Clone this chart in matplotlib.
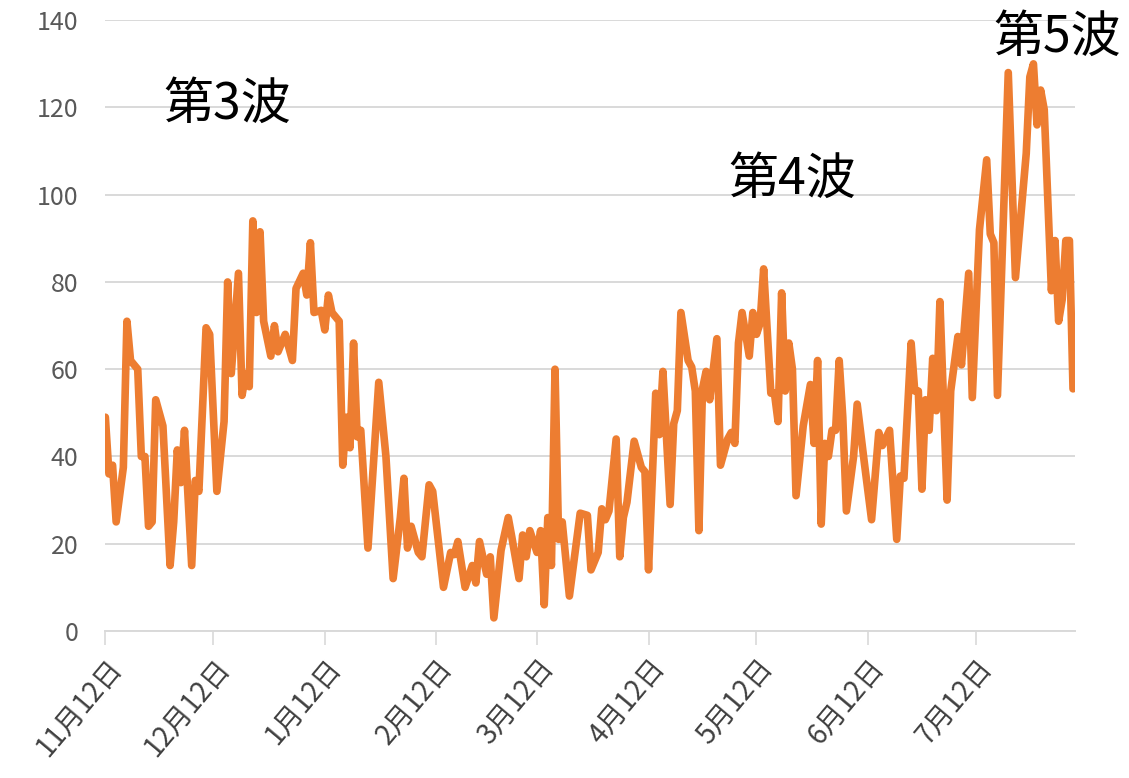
import matplotlib
matplotlib.use('Agg')
import matplotlib.pyplot as plt
import pandas as pd

plt.rcParams['font.family'] = ['Noto Sans CJK JP', 'DejaVu Sans']

start_date = '2020-11-12'
day_offsets = [0, 1, 2, 3, 5, 6, 7, 9, 10, 11, 12, 13, 14, 16, 18, 19, 20, 21, 22, 24,
               25, 26, 28, 29, 31, 33, 34, 35, 37, 38, 39, 40, 41, 42, 43, 44, 46, 47, 48, 50,
               52, 53, 55, 56, 57, 58, 60, 61, 62, 63, 65, 66, 67, 68, 69, 70, 71, 73, 76, 78,
               80, 82, 83, 84, 85, 87, 88, 90, 91, 94, 96, 97, 98, 100, 102, 103, 104, 106, 107, 108,
               110, 112, 113, 115, 116, 117, 118, 120, 121, 122, 123, 124, 125, 126, 127, 129, 132, 134, 135, 137,
               138, 139, 140, 142, 143, 144, 145, 147, 149, 150, 151, 153, 154, 155, 157, 158, 159, 160, 162, 163,
               164, 165, 166, 167, 168, 170, 171, 173, 174, 175, 176, 177, 179, 180, 181, 182, 183, 185, 186, 187,
               188, 189, 190, 191, 192, 194, 196, 197, 198, 199, 200, 201, 202, 203, 204, 205, 206, 208, 209, 211,
               213, 215, 216, 218, 220, 221, 222, 224, 225, 226, 227, 228, 229, 230, 231, 232, 234, 235, 237, 238,
               240, 241, 243, 245, 246, 247, 248, 251, 253, 256, 257, 258, 259, 260, 261, 263, 264, 265, 266, 267,
               268, 269]
values = [49, 36, 38, 25, 37.5, 71, 62, 60, 40, 40, 24, 25, 53, 47, 15, 25, 41.5, 34, 46, 15,
          34.5, 32, 69.5, 68, 32, 48, 80, 59, 82, 54, 59, 56, 94, 73, 91.5, 71, 63, 70, 64, 68,
          62, 78.5, 82, 77, 89, 73, 73.5, 69, 77, 73, 71, 38, 49, 42, 66, 44.5, 46, 19, 57, 40,
          12, 26, 35, 19, 24, 18, 17, 33.5, 32, 10, 18, 17.5, 20.5, 10, 15, 11, 20.5, 13, 17, 3,
          18.5, 26, 21.5, 12, 22, 17, 23, 18, 23, 6, 26, 15, 60, 21, 25, 8, 27, 26.5, 14, 18,
          28, 25.5, 27.5, 44, 17, 26, 29.5, 43.5, 37.5, 36.5, 14, 54.5, 45, 59.5, 29, 47.5, 50.5, 73, 62, 60.5,
          55, 23, 55.5, 59.5, 53, 67, 38, 44, 45.5, 43, 66, 73, 63, 73, 68, 70.5, 83, 54.5, 54.5, 48,
          77.5, 55, 66, 60, 31, 47, 56.5, 43, 62, 24.5, 43, 40, 46, 46, 62, 49, 27.5, 40, 52, 38.5,
          25.5, 45.5, 42.5, 46, 21, 35.5, 35, 66, 55, 55, 32.5, 53, 46, 62.5, 50.5, 75.5, 30, 55, 67.5, 61,
          82, 53.5, 92, 108, 91, 89, 54, 128, 81, 109.5, 127, 130, 116, 124, 119.5, 78, 89.5, 71, 76, 89.5,
          89.5, 55.5]
tick_dates = ['2020-11-12', '2020-12-12', '2021-01-12', '2021-02-12', '2021-03-12',
              '2021-04-12', '2021-05-12', '2021-06-12', '2021-07-12']
tick_labels = ['11月12日', '12月12日', '1月12日', '2月12日', '3月12日',
               '4月12日', '5月12日', '6月12日', '7月12日']
y_ticks = [0, 20, 40, 60, 80, 100, 120, 140]
wave_labels = ['第3波', '第4波', '第5波']

start = pd.Timestamp(start_date)
dates = start + pd.to_timedelta(day_offsets, unit='D')

fig = plt.figure(figsize=(11.29, 7.78), dpi=100)
ax = fig.add_axes([0.093, 0.189, 0.859, 0.785])

ax.plot(dates, values, color='#ED7D31', linewidth=5.5, solid_joinstyle='round',
        solid_capstyle='round', zorder=3)

ax.set_ylim(0, 140)
ax.set_xlim(start - pd.Timedelta(days=0.1), start + pd.Timedelta(days=269.5))
ax.set_yticks(y_ticks)
ax.yaxis.grid(True, color='#D9D9D9', linewidth=1.4)
ax.set_axisbelow(True)
for s in ['top', 'right', 'left']:
    ax.spines[s].set_visible(False)
ax.spines['bottom'].set_color('#D9D9D9')
ax.spines['bottom'].set_linewidth(1.4)

ax.set_xticks(pd.to_datetime(tick_dates))
ax.set_xticklabels(tick_labels, rotation=50, ha='right', va='top', rotation_mode='anchor')
ax.tick_params(axis='x', length=10, width=1.2, color='#D9D9D9', labelsize=20,
               labelcolor='#404040', pad=6)
ax.tick_params(axis='y', length=0, labelsize=18, labelcolor='#595959', pad=19)

wave_pos = [(34, 120.5), (191, 103.3), (264.7, 135.9)]
for lab, (d, v) in zip(wave_labels, wave_pos):
    ax.text(start + pd.Timedelta(days=d), v, lab, fontsize=36, color='black',
            ha='center', va='center', clip_on=False)

fig.savefig('out.png', dpi=100)
